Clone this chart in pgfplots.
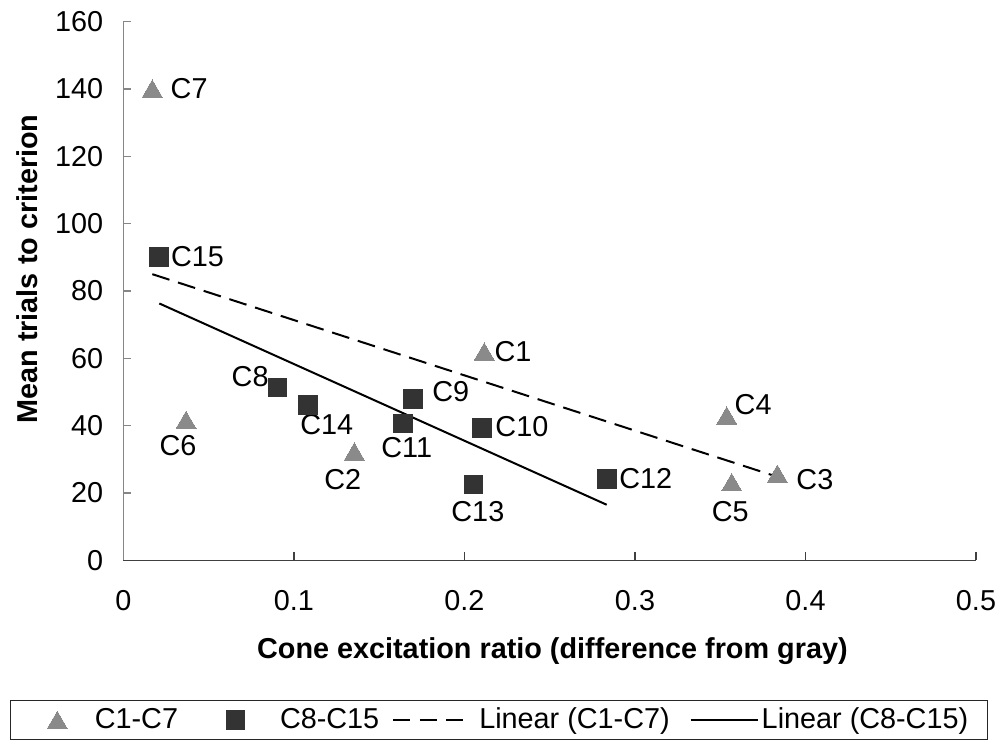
\documentclass[border=0pt]{standalone}
\usepackage{fontspec}
\setmainfont{Liberation Sans}
\usepackage{pgfplots}
\pgfplotsset{compat=1.18}
\definecolor{trigray}{HTML}{8A8A8A}
\definecolor{sqdark}{HTML}{333333}
\definecolor{axgray}{HTML}{868686}
\pgfplotsset{
  trileg/.style={legend image code/.code={\path (-4.5pt,0pt) (18pt,0pt); \draw[##1] plot coordinates {(9pt,0pt)};}},
  markleg/.style={legend image code/.code={\path (0pt,0pt) (18pt,0pt); \draw[##1] plot coordinates {(9pt,0pt)};}},
  dashleg/.style={legend image code/.code={\draw[##1, dash pattern=on 8.5pt off 4.75pt] (0pt,0pt) -- (35pt,0pt);}},
  solidleg/.style={legend image code/.code={\draw[##1] (0pt,0pt) -- (33.5pt,0pt);}},
}
\begin{document}
\begin{tikzpicture}[font=\fontsize{14.4}{17}\selectfont]
\path[use as bounding box] (-61.75pt,-91.85pt) rectangle (438.75pt,280.15pt);
\begin{axis}[
  scale only axis, width=426.25pt, height=269.3pt,
  xmin=0, xmax=0.5, ymin=0, ymax=160,
  axis x line=bottom, axis y line=left,
  x axis line style={-, draw=black!75, line width=0.75pt},
  y axis line style={-, draw=axgray, line width=0.75pt},
  xtick={0,0.1,0.2,0.3,0.4,0.5}, ytick={0,20,40,60,80,100,120,140,160},
  xticklabels={0,0.1,0.2,0.3,0.4,0.5},
  yticklabels={0,20,40,60,80,100,120,140,160},
  /pgf/number format/assume math mode=true,
  tick align=inside, major tick length=4pt,
  xtick style={draw=black!75, line width=0.6pt},
  ytick style={draw=axgray, line width=0.6pt},
  tick label style={font=\fontsize{14.4}{17}\selectfont},
  xticklabel shift=11.7pt,
  yticklabel shift=6.6pt,
  xlabel={Cone excitation ratio (difference from gray)},
  ylabel={Mean trials to criterion},
  label style={font=\bfseries\fontsize{14.4}{17}\selectfont},
  xlabel style={at={(axis description cs:0.5031,-0.1827)}, anchor=base},
  ylabel style={at={(axis description cs:-0.1003,0.5409)}, anchor=base},
  clip=false,
  legend columns=4,
  legend style={at={(axis description cs:0.4405,-0.2965)}, anchor=center,
    draw=black!85, line width=0.5pt, inner xsep=9.5pt, inner ysep=4pt,
    font=\fontsize{14.4}{17}\selectfont,
    nodes={inner xsep=0pt, inner ysep=0pt},
    column sep=0pt,
    /tikz/column 1/.style={column sep=9.5pt},
    /tikz/column 2/.style={column sep=19.5pt},
    /tikz/column 3/.style={column sep=13pt},
    /tikz/column 4/.style={column sep=6.5pt},
    /tikz/column 5/.style={column sep=7.5pt},
    /tikz/column 6/.style={column sep=10pt},
    /tikz/column 7/.style={column sep=1.5pt}},
]
\addplot[only marks, mark=triangle*, mark size=5.8pt, color=trigray,
  mark options={solid, fill=trigray, draw=trigray, line width=0pt, yshift=-1.45pt},
  trileg]
  coordinates {
  (0.2116,62.0) (0.1354,32.3) (0.3835,25.7) (0.3538,43.0)
  (0.3567,23.2) (0.0367,41.7) (0.0169,140.1)};
\addlegendentry{C1-C7}
\addplot[only marks, mark=square*, mark size=4.67pt, color=sqdark,
  mark options={solid, fill=sqdark, draw=sqdark, line width=0pt},
  markleg]
  coordinates {
  (0.0904,51.3) (0.1696,48.0) (0.2103,39.3) (0.1638,40.6)
  (0.2834,24.2) (0.2052,22.5) (0.1084,46.2) (0.0210,90.2)};
\addlegendentry{C8-C15}
\addplot[black, line width=1pt, dash pattern=on 9pt off 4.5pt, dashleg]
  coordinates {(0.0169,85.0) (0.3835,24.8)};
\addlegendentry{Linear (C1-C7)}
\addplot[black, line width=1pt, solidleg]
  coordinates {(0.0210,76.3) (0.2834,16.5)};
\addlegendentry{Linear (C8-C15)}

\begin{scope}[every node/.style={inner sep=0pt, font=\fontsize{14.4}{17}\selectfont}]
\node[anchor=west, xshift=9pt] at (axis cs:0.0169,140.1) {C7};
\node[anchor=west, xshift=5.7pt] at (axis cs:0.0210,90.2) {C15};
\node[anchor=east, xshift=-4.35pt, yshift=5.35pt] at (axis cs:0.0904,51.3) {C8};
\node[xshift=9.25pt, yshift=-10.15pt] at (axis cs:0.1084,46.2) {C14};
\node[anchor=west, xshift=9.65pt, yshift=3.6pt] at (axis cs:0.1696,48.0) {C9};
\node[xshift=2pt, yshift=-11.75pt] at (axis cs:0.1638,40.6) {C11};
\node[anchor=west, xshift=6.5pt, yshift=0.5pt] at (axis cs:0.2103,39.3) {C10};
\node[xshift=2.25pt, yshift=-13.3pt] at (axis cs:0.2052,22.5) {C13};
\node[xshift=-4pt, yshift=-12.85pt] at (axis cs:0.0367,41.7) {C6};
\node[xshift=-5.8pt, yshift=-13.9pt] at (axis cs:0.1354,32.3) {C2};
\node[anchor=west, xshift=5pt] at (axis cs:0.2116,62.0) {C1};
\node[anchor=west, xshift=6.15pt] at (axis cs:0.2834,24.2) {C12};
\node[anchor=west, xshift=3.8pt, yshift=5.35pt] at (axis cs:0.3538,43.0) {C4};
\node[xshift=-0.7pt, yshift=-14.6pt] at (axis cs:0.3567,23.2) {C5};
\node[anchor=west, xshift=9.35pt, yshift=-2.75pt] at (axis cs:0.3835,25.7) {C3};
\end{scope}
\end{axis}
\end{tikzpicture}
\end{document}
